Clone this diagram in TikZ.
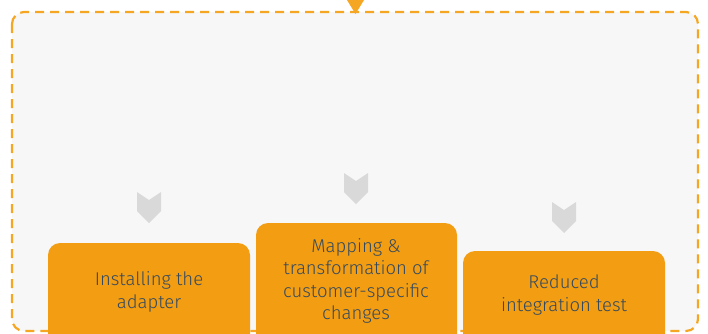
\documentclass[tikz,border=0pt]{standalone}
\usepackage{fontspec}
\setmainfont{Fira Sans}[UprightFont=* Light]
\usetikzlibrary{positioning}
\definecolor{stepOrange}{RGB}{243,158,18}
\definecolor{frameOrange}{RGB}{245,166,35}
\definecolor{chevronGray}{RGB}{217,217,217}
\definecolor{panelGray}{RGB}{247,247,247}
\definecolor{textBlue}{RGB}{52,73,94}
\tikzstyle{canvas} = [x = 1pt, y = -1pt]
\tikzstyle{panel} = [draw=frameOrange, fill=panelGray, dash pattern=on 9pt off 6pt, line width=2.2pt, rounded corners=12pt]
\tikzstyle{stepBox} = [fill=stepOrange, rounded corners=12pt]
\tikzstyle{stepText} = [text=textBlue, align=center, font=\fontsize{18.5}{22.5}\selectfont]
\tikzstyle{chevronShape} = [fill=chevronGray]
\newcommand{\chevron}[2]{\fill [chevronShape] (#1 - 12, #2) -- (#1, #2 + 8) -- (#1 + 12, #2) -- (#1 + 12, #2 + 19) -- (#1, #2 + 31) -- (#1 - 12, #2 + 19) -- cycle;}
\newcommand{\stepBox}[3]{\fill [stepBox] (#1, #3) rectangle (#2, 380);}

\begin{document}
\begin{tikzpicture}[canvas]
  \useasboundingbox (0,0) rectangle (708,333);
  \clip (0,0) rectangle (708,333);
  % panel with the incoming arrow
  \draw [panel] (12,12) rectangle (698,331);
  \coordinate (panelTop) at (355.5,14);
  \fill [frameOrange] (347,0) -- (364,0) -- (panelTop) -- cycle;
  % chevrons
  \chevron{149}{192}
  \chevron{356}{173}
  \chevron{564}{202}
  % steps
  \stepBox{48}{250}{243}
  \stepBox{256}{457}{223}
  \stepBox{463}{665}{251}
  \node [stepText] (installing) at (149,292) {Installing the\\adapter};
  \node [stepText] (mapping) at (356,281) {Mapping \&\\transformation of\\customer-specific\\changes};
  \node [stepText] (reduced) at (564,295) {Reduced\\integration test};
\end{tikzpicture}
\end{document}
